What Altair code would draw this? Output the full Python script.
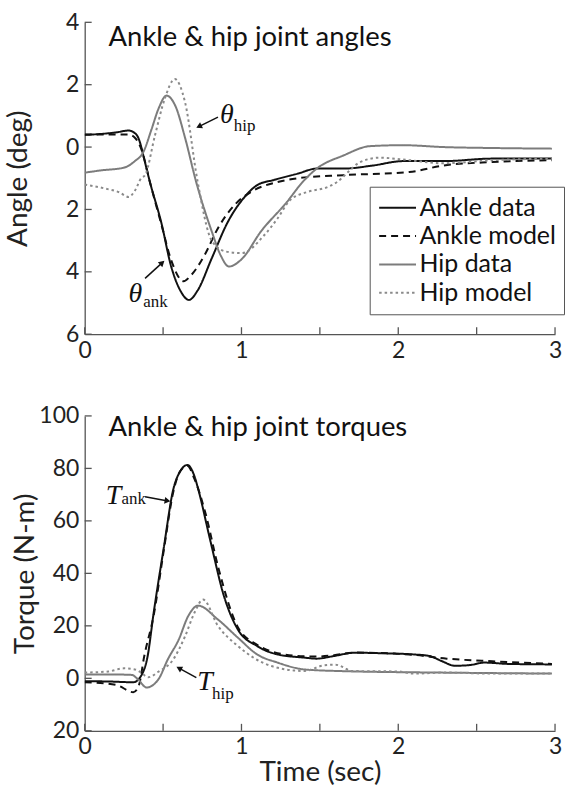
import altair as alt
import pandas as pd

SERIES = ["Ankle data", "Ankle model", "Hip data", "Hip model"]

# ---------- Top panel: joint angles (deg) ----------
ang_ankle_data_t = [0, 0.1, 0.2, 0.28, 0.33, 0.36, 0.374, 0.416, 0.49, 0.55, 0.61, 0.665, 0.72, 0.81, 0.913, 1.02, 1.10, 1.21, 1.36, 1.48, 1.65, 1.84, 2.03, 2.29, 2.6, 2.98]
ang_ankle_data_v = [0.39, 0.42, 0.47, 0.53, 0.4, 0.02, -0.27, -1.12, -2.45, -3.8, -4.6, -4.9, -4.6, -3.57, -2.4, -1.6, -1.22, -1.05, -0.85, -0.69, -0.69, -0.59, -0.45, -0.45, -0.37, -0.37]

ang_ankle_model_t = [0, 0.1, 0.2, 0.28, 0.32, 0.36, 0.42, 0.49, 0.55, 0.63, 0.68, 0.765, 0.85, 0.955, 1.06, 1.23, 1.36, 1.65, 2.07, 2.29, 2.6, 2.98]
ang_ankle_model_v = [0.4, 0.4, 0.4, 0.4, 0.3, -0.05, -1.2, -2.5, -3.6, -4.3, -4.1, -3.46, -2.6, -1.86, -1.44, -1.12, -1.0, -0.9, -0.8, -0.59, -0.48, -0.42]

ang_hip_data_t = [0, 0.1, 0.25, 0.32, 0.374, 0.427, 0.47, 0.522, 0.58, 0.64, 0.71, 0.81, 0.87, 0.92, 1.0, 1.125, 1.29, 1.39, 1.48, 1.65, 1.82, 2.03, 2.29, 2.6, 2.98]
ang_hip_data_v = [-0.82, -0.75, -0.66, -0.45, -0.16, 0.58, 1.22, 1.65, 1.3, 0.3, -1.1, -2.7, -3.5, -3.83, -3.6, -2.7, -1.76, -1.12, -0.69, -0.27, 0.03, 0.06, 0.0, -0.03, -0.05]

ang_hip_model_t = [0, 0.13, 0.22, 0.28, 0.32, 0.36, 0.385, 0.448, 0.51, 0.575, 0.64, 0.72, 0.81, 0.9, 1.0, 1.146, 1.23, 1.31, 1.42, 1.55, 1.61, 1.68, 1.75, 1.88, 2.07, 2.29, 2.6, 2.98]
ang_hip_model_v = [-1.2, -1.33, -1.45, -1.6, -1.4, -1.0, -0.9, 0.37, 1.54, 2.18, 1.44, -1.1, -3.0, -3.35, -3.4, -2.82, -2.29, -1.7, -1.44, -1.28, -1.12, -0.8, -0.5, -0.34, -0.42, -0.52, -0.42, -0.37]

# ---------- Bottom panel: joint torques (N-m) ----------
tq_ankle_data_t = [0, 0.15, 0.31, 0.36, 0.40, 0.44, 0.505, 0.565, 0.61, 0.655, 0.70, 0.72, 0.80, 0.89, 0.977, 1.10, 1.23, 1.40, 1.48, 1.59, 1.72, 1.93, 2.1, 2.2, 2.28, 2.36, 2.45, 2.55, 2.7, 2.98]
tq_ankle_data_v = [-1.1, -1.2, -1.5, 1.0, 8, 25, 50, 72, 79, 81.3, 77, 73, 52.8, 31, 18.6, 12.3, 9.1, 7.9, 7.5, 8.5, 9.75, 9.5, 9.1, 8.5, 6.5, 4.8, 5.0, 6.0, 5.5, 5.3]

tq_ankle_model_t = [0, 0.2, 0.31, 0.345, 0.38, 0.44, 0.505, 0.565, 0.61, 0.655, 0.70, 0.77, 0.85, 0.977, 1.10, 1.23, 1.40, 1.48, 1.59, 1.72, 2.07, 2.31, 2.6, 2.98]
tq_ankle_model_v = [-1.5, -2.5, -5.3, -2.8, 8.5, 24, 49, 71, 79, 81, 76, 63, 42.7, 19.5, 12.8, 9.6, 8.4, 8.3, 8.8, 9.8, 9.1, 7.5, 6.5, 5.5]

tq_hip_data_t = [0, 0.15, 0.3, 0.34, 0.395, 0.47, 0.53, 0.60, 0.66, 0.723, 0.85, 0.977, 1.10, 1.23, 1.40, 1.61, 2.245, 2.6, 2.98]
tq_hip_data_v = [1.5, 1.5, 1.3, -0.4, -3.5, -0.4, 7.2, 14.8, 23.7, 27.7, 22.4, 15.5, 9.1, 6.0, 3.4, 2.8, 2.2, 2.0, 1.8]

tq_hip_model_t = [0, 0.15, 0.25, 0.32, 0.36, 0.405, 0.47, 0.565, 0.64, 0.70, 0.755, 0.85, 0.977, 1.19, 1.40, 1.53, 1.6, 1.65, 1.7, 2.0, 2.1, 2.3, 2.6, 2.98]
tq_hip_model_v = [2.2, 2.6, 3.8, 3.4, 2.2, 0.4, 2.5, 7.2, 16, 25, 30, 20, 12.3, 4.7, 2.8, 5.0, 5.2, 4.2, 2.8, 2.6, 1.8, 2.2, 1.8, 1.8]

ANG_TICKS = [-6, -4, -2, 0, 2, 4]
TQ_TICKS = [-20, 0, 20, 40, 60, 80, 100]
X_TICKS = [0, 0.5, 1, 1.5, 2, 2.5, 3]

FONT = "Lato"
SERIF = "Liberation Serif"
W, H1, H2 = 472, 313, 316


def long_df(pairs):
    rows = []
    for name, ts, vs in pairs:
        for t, v in zip(ts, vs):
            rows.append({"t": t, "v": v, "series": name})
    return pd.DataFrame(rows)


df_ang = long_df([
    ("Ankle data", ang_ankle_data_t, ang_ankle_data_v),
    ("Ankle model", ang_ankle_model_t, ang_ankle_model_v),
    ("Hip data", ang_hip_data_t, ang_hip_data_v),
    ("Hip model", ang_hip_model_t, ang_hip_model_v),
])
df_tq = long_df([
    ("Ankle data", tq_ankle_data_t, tq_ankle_data_v),
    ("Ankle model", tq_ankle_model_t, tq_ankle_model_v),
    ("Hip data", tq_hip_data_t, tq_hip_data_v),
    ("Hip model", tq_hip_model_t, tq_hip_model_v),
])

color_scale = alt.Scale(domain=SERIES, range=["#111111", "#111111", "#7c7c7c", "#8a8a8a"])
dash_scale = alt.Scale(domain=SERIES, range=[[1, 0], [7, 5], [1, 0], [2.5, 3]])
width_scale = alt.Scale(domain=SERIES, range=[2, 2, 2.6, 2.8])


def panel(df, ydom, yticks, ytitle, title_x, height, show_legend, title_text, title_y, show_xtitle, annots, arrows):
    xaxis = alt.Axis(values=X_TICKS, labelExpr="datum.value % 1 == 0 ? format(datum.value, 'd') : ''",
                     ticks=False, grid=False, labelFontSize=23, labelFont=FONT, labelColor="#222",
                     labelPadding=5, domainColor="#555", domainWidth=1.3, labelFlush=False,
                     title="Time (sec)" if show_xtitle else None, titleFontSize=28, titleFont=FONT,
                     titleFontWeight="normal", titleColor="#222", titlePadding=0)
    yaxis = alt.Axis(values=yticks, labelExpr="abs(datum.value)", ticks=False, grid=False,
                     labelFontSize=23, labelFont=FONT, labelColor="#222", labelPadding=6,
                     domainColor="#555", domainWidth=1.3, title=ytitle, titleFontSize=28,
                     titleFont=FONT, titleFontWeight="normal", titleColor="#222",
                     titleX=title_x, titleY=height / 2, titleBaseline="alphabetic", labelFlush=False)
    if show_legend:
        legend = alt.Legend(orient="none", legendX=286, legendY=165, title=None,
                            symbolType="M-1.6,0H1.6", symbolSize=535, symbolStrokeWidth=2.2,
                            labelFontSize=25, labelFont=FONT, labelColor="#111",
                            strokeColor="#555", fillColor="white", padding=8,
                            rowPadding=2.5, labelOffset=9, symbolOffset=7)
    else:
        legend = None
    x = alt.X("t:Q", scale=alt.Scale(domain=[0, 3], nice=False), axis=xaxis)
    y = alt.Y("v:Q", scale=alt.Scale(domain=ydom, nice=False), axis=yaxis)
    lines = alt.Chart(df).mark_line(interpolate="monotone", clip=True).encode(
        x=x, y=y,
        color=alt.Color("series:N", scale=color_scale, legend=legend, sort=SERIES),
        strokeDash=alt.StrokeDash("series:N", scale=dash_scale, legend=legend, sort=SERIES),
        strokeWidth=alt.StrokeWidth("series:N", scale=width_scale, legend=None),
        order=alt.Order("t:Q"),
        detail="series:N",
    )
    ytick_df = pd.DataFrame({"v": yticks})
    yt = alt.Chart(ytick_df).mark_rule(color="#555", strokeWidth=1.3).encode(
        y="v:Q", x=alt.value(0), x2=alt.value(7))
    xtick_df = pd.DataFrame({"t": X_TICKS})
    xt = alt.Chart(xtick_df).mark_rule(color="#555", strokeWidth=1.3).encode(
        x="t:Q", y=alt.value(height), y2=alt.value(height - 7))
    ttl = alt.Chart(pd.DataFrame({"s": [title_text]})).mark_text(
        align="left", baseline="alphabetic", fontSize=27.5, font=FONT, color="#111").encode(
        text="s:N", x=alt.value(24), y=alt.value(title_y))
    layers = [lines, yt, xt, ttl]
    for (txt, t, v, size, italic, align) in annots:
        layers.append(alt.Chart(pd.DataFrame({"t": [t], "v": [v], "s": [txt]})).mark_text(
            font=SERIF, fontSize=size, fontStyle="italic" if italic else "normal",
            align=align, baseline="middle", color="#111").encode(x="t:Q", y="v:Q", text="s:N"))
    for (t0, v0, t1, v1, ang) in arrows:
        layers.append(alt.Chart(pd.DataFrame({"t": [t0], "v": [v0], "t2": [t1], "v2": [v1]})).mark_rule(
            color="#111", strokeWidth=1.5).encode(x="t:Q", y="v:Q", x2="t2:Q", y2="v2:Q"))
        layers.append(alt.Chart(pd.DataFrame({"t": [t1], "v": [v1]})).mark_point(
            shape="triangle", filled=True, size=45, angle=ang, color="#111", opacity=1).encode(
            x="t:Q", y="v:Q"))
    return alt.layer(*layers).properties(width=W, height=height)


top = panel(df_ang, [-6, 4], ANG_TICKS, "Angle (deg)", -58, H1, True,
            "Ankle & hip joint angles", 24, False,
            [("θ", 0.907, 1.02, 28, True, "center"), ("hip", 0.951, 0.67, 17, False, "left"),
             ("θ", 0.323, -4.70, 28, True, "center"), ("ank", 0.374, -4.98, 17, False, "left")],
            [(0.85, 0.96, 0.734, 0.67, 244), (0.385, -4.21, 0.49, -3.73, 48)])

bottom = panel(df_tq, [-20, 100], TQ_TICKS, "Torque (N-m)", -51, H2, False,
               "Ankle & hip joint torques", 20, True,
               [("T", 0.184, 69.5, 28, True, "center"), ("ank", 0.235, 68.4, 17, False, "left"),
                ("T", 0.767, -1.5, 28, True, "center"), ("hip", 0.812, -6.1, 17, False, "left")],
               [(0.385, 69.2, 0.522, 67.7, 100), (0.712, 0.27, 0.607, 3.68, 298)])

chart = alt.vconcat(top, bottom, spacing=82, bounds="flush").properties(
    padding={"left": 5, "top": 10, "right": 0, "bottom": 0},
    background="white",
).configure_view(stroke=None)

chart.save("out.html", embed_options={"renderer": "svg", "actions": False})
